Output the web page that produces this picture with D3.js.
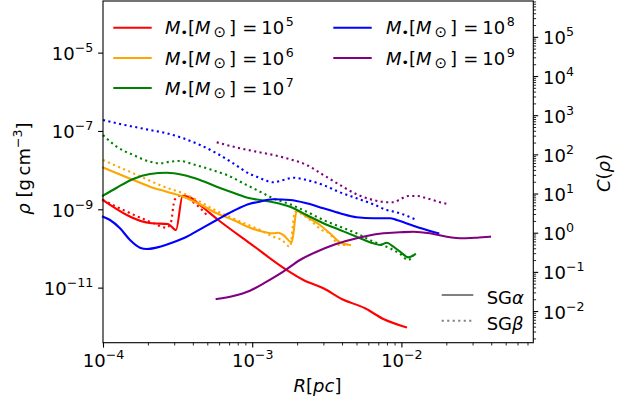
<!DOCTYPE html>
<html>
<head>
<meta charset="utf-8">
<script src="https://cdn.jsdelivr.net/npm/d3@7"></script>
<style>
  html, body { margin: 0; padding: 0; background: #fff; }
  svg { display: block; font-family: "DejaVu Sans", sans-serif; }
</style>
</head>
<body>
<svg id="chart" width="628" height="402"></svg>
<script>
// Density profiles: log10 R [pc] and log10 rho [g cm^-3], one pair per black-hole mass and model.
const massExponents = ["5", "6", "7", "8", "9"];
const massColors = ["red", "orange", "green", "blue", "purple"];

// M = 1e5
const logR_m5_sgA   = [-4.000,-3.674,-3.564,-3.511,-3.466,-3.417,-3.350,-3.227,-3.015,-2.769,-2.657,-2.523,-2.400,-2.244,-2.121,-1.969];
const logRho_m5_sgA = [-8.763,-9.357,-9.375,-9.528,-8.653,-8.694,-8.890,-9.273,-9.868,-10.550,-10.805,-11.017,-11.290,-11.527,-11.801,-12.012];
const logR_m5_sgB   = [-4.000,-3.674,-3.573,-3.544,-3.521,-3.484,-3.372,-3.305];
const logRho_m5_sgB = [-8.763,-9.332,-9.470,-9.324,-8.763,-8.653,-8.890,-9.146];

// M = 1e6
const logR_m6_sgA   = [-4.000,-3.797,-3.685,-3.573,-3.462,-3.350,-3.238,-3.127,-3.015,-2.948,-2.859,-2.825,-2.792,-2.735,-2.702,-2.635,-2.546,-2.479,-2.412,-2.345];
const logRho_m6_sgA = [-7.933,-8.252,-8.423,-8.551,-8.678,-8.872,-9.102,-9.273,-9.470,-9.554,-9.613,-9.597,-9.656,-9.842,-9.043,-9.189,-9.401,-9.613,-9.842,-9.911];
const logR_m6_sgB   = [-4.000,-3.797,-3.573,-3.462,-3.350,-3.238,-3.127,-3.037,-2.948,-2.859,-2.802,-2.747,-2.713,-2.613,-2.534,-2.490,-2.412,-2.367];
const logRho_m6_sgB = [-7.741,-8.081,-8.449,-8.592,-8.806,-9.043,-9.230,-9.383,-9.528,-9.700,-9.784,-9.955,-9.061,-9.273,-9.528,-9.597,-9.911,-9.911];

// M = 1e7
const logR_m7_sgA   = [-4.000,-3.908,-3.797,-3.685,-3.573,-3.462,-3.350,-3.238,-3.127,-3.015,-2.948,-2.859,-2.747,-2.635,-2.523,-2.412,-2.300,-2.188,-2.143,-2.098,-2.054,-2.009,-1.954,-1.909];
const logRho_m7_sgA = [-8.653,-8.449,-8.226,-8.099,-8.066,-8.124,-8.252,-8.423,-8.576,-8.719,-8.763,-8.821,-8.934,-9.146,-9.357,-9.528,-9.700,-9.868,-9.911,-9.853,-9.955,-10.082,-10.225,-10.149];
const logR_m7_sgB   = [-4.000,-3.908,-3.797,-3.685,-3.618,-3.551,-3.484,-3.395,-3.283,-3.171,-3.037,-2.970,-2.859,-2.747,-2.635,-2.523,-2.412,-2.300,-2.188,-2.076,-2.009,-1.954,-1.920];
const logRho_m7_sgB = [-7.103,-7.402,-7.614,-7.785,-7.826,-7.785,-7.767,-7.851,-7.979,-8.124,-8.380,-8.507,-8.719,-8.872,-9.061,-9.273,-9.444,-9.613,-9.827,-9.996,-10.141,-10.294,-10.167];

// M = 1e8
const logR_m8_sgA   = [-4.000,-3.953,-3.886,-3.819,-3.752,-3.707,-3.618,-3.529,-3.439,-3.350,-3.238,-3.127,-3.015,-2.970,-2.859,-2.747,-2.635,-2.523,-2.412,-2.300,-2.188,-2.076,-2.032,-1.920,-1.808,-1.753];
const logRho_m8_sgA = [-9.189,-9.273,-9.485,-9.784,-9.980,-10.014,-9.955,-9.842,-9.700,-9.511,-9.273,-9.043,-8.857,-8.821,-8.745,-8.763,-8.847,-8.974,-9.102,-9.204,-9.230,-9.230,-9.273,-9.419,-9.554,-9.613];
const logR_m8_sgB   = [-4.000,-3.908,-3.797,-3.685,-3.573,-3.462,-3.350,-3.238,-3.127,-3.015,-2.970,-2.859,-2.792,-2.725,-2.635,-2.523,-2.412,-2.300,-2.188,-2.098,-2.032,-1.897];
const logRho_m8_sgB = [-6.720,-6.804,-6.891,-6.976,-7.060,-7.187,-7.358,-7.570,-7.826,-8.099,-8.168,-8.311,-8.252,-8.193,-8.252,-8.380,-8.566,-8.719,-8.872,-9.018,-9.077,-9.273];

// M = 1e9
const logR_m9_sgA   = [-3.238,-3.127,-3.015,-2.903,-2.792,-2.680,-2.568,-2.456,-2.345,-2.233,-2.121,-2.009,-1.920,-1.808,-1.696,-1.585,-1.495,-1.406];
const logRho_m9_sgA = [-11.290,-11.213,-11.078,-10.848,-10.593,-10.294,-10.082,-9.911,-9.784,-9.682,-9.613,-9.587,-9.572,-9.613,-9.700,-9.740,-9.725,-9.700];
const logR_m9_sgB   = [-3.238,-3.082,-2.970,-2.859,-2.747,-2.635,-2.523,-2.412,-2.300,-2.188,-2.088,-2.054,-2.009,-1.954,-1.897,-1.830,-1.753,-1.686];
const logRho_m9_sgB = [-7.290,-7.443,-7.530,-7.614,-7.723,-7.869,-8.124,-8.380,-8.617,-8.763,-8.821,-8.821,-8.745,-8.660,-8.660,-8.719,-8.806,-8.872];

// Tick label exponents
const xTickExps = ["\u22124", "\u22123", "\u22122"];
const rhoTickExps = ["\u22125", "\u22127", "\u22129", "\u221211"];
const cTickExps = ["\u22122", "\u22121", "0", "1", "2", "3", "4", "5"];

const profiles = [
  { color: "red",    a: [logR_m5_sgA, logRho_m5_sgA], b: [logR_m5_sgB, logRho_m5_sgB] },
  { color: "orange", a: [logR_m6_sgA, logRho_m6_sgA], b: [logR_m6_sgB, logRho_m6_sgB] },
  { color: "green",  a: [logR_m7_sgA, logRho_m7_sgA], b: [logR_m7_sgB, logRho_m7_sgB] },
  { color: "blue",   a: [logR_m8_sgA, logRho_m8_sgA], b: [logR_m8_sgB, logRho_m8_sgB] },
  { color: "purple", a: [logR_m9_sgA, logRho_m9_sgA], b: [logR_m9_sgB, logRho_m9_sgB] }
];

const FS = 18;       // base font size
const FS_SUP = 12.6; // super/subscript size
const SUP_RISE = 8;

const svg = d3.select("#chart");
const box = { left: 103, right: 533.3, top: 1, bottom: 342.7 };

const x = d3.scaleLog().domain([1e-4, Math.pow(10, -1.116)]).range([box.left, box.right]);
const y = d3.scaleLog().domain([Math.pow(10, -12.406), Math.pow(10, -3.682)]).range([box.bottom, box.top]);
const yC = d3.scaleLog().domain([Math.pow(10, -2.808), Math.pow(10, 5.915)]).range([box.bottom, box.top]);

const toPoints = ([lr, lp]) => lr.map((v, i) => [Math.pow(10, v), Math.pow(10, lp[i])]);
const line = d3.line().x(d => x(d[0])).y(d => y(d[1])).curve(d3.curveMonotoneX);

const isDecade = v => Math.abs(Math.log10(v) - Math.round(Math.log10(v))) < 1e-9;
const inside = (s, v) => { const [a, b] = s.domain(); return v >= a * 0.9999 && v <= b * 1.0001; };

// ---- curves ----
const curves = svg.append("g").attr("fill", "none").attr("stroke-width", 2.1).attr("stroke-linejoin", "round");
profiles.forEach(p => {
  curves.append("path").attr("d", line(toPoints(p.a))).attr("stroke", p.color).attr("stroke-linecap", "square");
  curves.append("path").attr("d", line(toPoints(p.b))).attr("stroke", p.color)
    .attr("stroke-dasharray", "2.1 3.4").attr("stroke-linecap", "butt");
});

// ---- frame ----
svg.append("rect").attr("x", box.left).attr("y", box.top)
  .attr("width", box.right - box.left).attr("height", box.bottom - box.top)
  .attr("fill", "none").attr("stroke", "#000").attr("stroke-width", 1.1);

function expText(sel, exp) {
  sel.append("tspan").text("10");
  sel.append("tspan").attr("dy", -SUP_RISE).attr("font-size", FS_SUP).text(exp);
}
function styleLabel(t) {
  return t.attr("fill", "#000").attr("font-size", FS).attr("font-family", "DejaVu Sans");
}

// ---- bottom axis ----
const xMajor = [1e-4, 1e-3, 1e-2];
const xMinor = x.ticks().filter(v => !isDecade(v) && inside(x, v));
const gx = svg.append("g").attr("transform", `translate(0,${box.bottom})`);
gx.call(d3.axisBottom(x).tickValues(xMinor).tickSize(2.8).tickFormat(""));
gx.selectAll(".tick line").attr("stroke-width", 0.85);
const gx2 = svg.append("g").attr("transform", `translate(0,${box.bottom})`);
gx2.call(d3.axisBottom(x).tickValues(xMajor).tickSize(4.9).tickFormat(""));
gx2.selectAll(".tick line").attr("stroke-width", 1.1);
gx2.selectAll(".tick").each(function (d, i) {
  const t = styleLabel(d3.select(this).append("text").attr("y", 24.5).attr("text-anchor", "middle"));
  expText(t, xTickExps[i]);
});
svg.selectAll(".domain").remove();

// ---- left axis ----
const rhoMajor = [1e-5, 1e-7, 1e-9, 1e-11];
const gy = svg.append("g").attr("transform", `translate(${box.left},0)`);
gy.call(d3.axisLeft(y).tickValues(rhoMajor).tickSize(4.9).tickFormat(""));
gy.selectAll(".tick line").attr("stroke-width", 1.1);
gy.selectAll(".tick").each(function (d, i) {
  const t = styleLabel(d3.select(this).append("text").attr("x", -9.7).attr("y", 7).attr("text-anchor", "end"));
  expText(t, rhoTickExps[i]);
});
gy.select(".domain").remove();

// ---- right axis ----
const cMajor = [1e-2, 1e-1, 1e0, 1e1, 1e2, 1e3, 1e4, 1e5];
const cMinor = yC.ticks().filter(v => !isDecade(v) && inside(yC, v));
const gr = svg.append("g").attr("transform", `translate(${box.right},0)`);
gr.call(d3.axisRight(yC).tickValues(cMinor).tickSize(2.8).tickFormat(""));
gr.selectAll(".tick line").attr("stroke-width", 0.85);
gr.select(".domain").remove();
const gr2 = svg.append("g").attr("transform", `translate(${box.right},0)`);
gr2.call(d3.axisRight(yC).tickValues(cMajor).tickSize(4.9).tickFormat(""));
gr2.selectAll(".tick line").attr("stroke-width", 1.1);
gr2.selectAll(".tick").each(function (d, i) {
  const t = styleLabel(d3.select(this).append("text").attr("x", 9.8).attr("y", 7).attr("text-anchor", "start"));
  expText(t, cTickExps[i]);
});
gr2.select(".domain").remove();

// ---- axis titles ----
const xt = svg.append("text").attr("x", 317.5).attr("y", 391.5).attr("text-anchor", "middle").attr("font-size", FS);
xt.append("tspan").attr("font-style", "italic").text("R");
xt.append("tspan").text("[");
xt.append("tspan").attr("font-style", "italic").text("pc");
xt.append("tspan").text("]");

const yt = svg.append("text").attr("transform", "translate(30,168.5) rotate(-90)").attr("text-anchor", "middle").attr("font-size", FS);
yt.append("tspan").attr("font-style", "italic").text("\u03C1");
yt.append("tspan").text(" [g\u2009cm");
yt.append("tspan").attr("dy", -SUP_RISE).attr("font-size", FS_SUP).text("\u22123");
yt.append("tspan").attr("dy", SUP_RISE).text("]");

const ct = svg.append("text").attr("transform", "translate(609.5,173) rotate(-90)").attr("text-anchor", "middle").attr("font-size", FS);
ct.append("tspan").attr("font-style", "italic").text("C");
ct.append("tspan").text("(");
ct.append("tspan").attr("font-style", "italic").text("\u03C1");
ct.append("tspan").text(")");

// ---- mass legend ----
const legendSlots = [
  { lx: 113.3, tx: 165, cy: 27.7 }, { lx: 113.3, tx: 165, cy: 58 }, { lx: 113.3, tx: 165, cy: 88 },
  { lx: 333.3, tx: 386, cy: 27.7 }, { lx: 333.3, tx: 386, cy: 58 }
];
massExponents.forEach((e, i) => {
  const s = legendSlots[i];
  svg.append("line").attr("x1", s.lx).attr("x2", s.lx + 38.4).attr("y1", s.cy).attr("y2", s.cy)
    .attr("stroke", massColors[i]).attr("stroke-width", 2.1);
  // M_bullet [M_sun] = 10^e, laid out as one run of text
  const t = svg.append("text").attr("x", s.tx).attr("y", s.cy + 6.6).attr("font-size", FS);
  const part = (txt, o = {}) => {
    const sp = t.append("tspan").text(txt);
    if (o.dx) sp.attr("dx", o.dx);
    if (o.dy) sp.attr("dy", o.dy);
    if (o.italic) sp.attr("font-style", "italic");
    if (o.size) sp.attr("font-size", o.size);
    return sp;
  };
  part("M", { italic: true });
  part("\u2022", { size: FS_SUP, dy: 2.5 });
  part("[", { dy: -2.5 });
  part("M", { italic: true });
  part("\u2299", { size: 15, dy: 3, dx: 3 });
  part("]", { dy: -3, dx: 3 });
  part("=", { dx: 6 });
  part("10", { dx: 4 });
  part(e, { size: FS_SUP, dy: -SUP_RISE, dx: 1.5 });
});

// ---- model legend ----
const modelNames = ["\u03B1", "\u03B2"];
const modelDash = [null, "2.1 3.4"];
const modelRows = [295, 320.7];
modelNames.forEach((m, i) => {
  const l = svg.append("line").attr("x1", 441.7).attr("x2", 473.3).attr("y1", modelRows[i]).attr("y2", modelRows[i])
    .attr("stroke", "#808080").attr("stroke-width", 2.1);
  if (modelDash[i]) l.attr("stroke-dasharray", modelDash[i]);
  const t = svg.append("text").attr("x", 486.7).attr("y", modelRows[i] + 9).attr("font-size", FS);
  t.append("tspan").text("SG");
  t.append("tspan").attr("font-style", "italic").text(m);
});
</script>
</body>
</html>
